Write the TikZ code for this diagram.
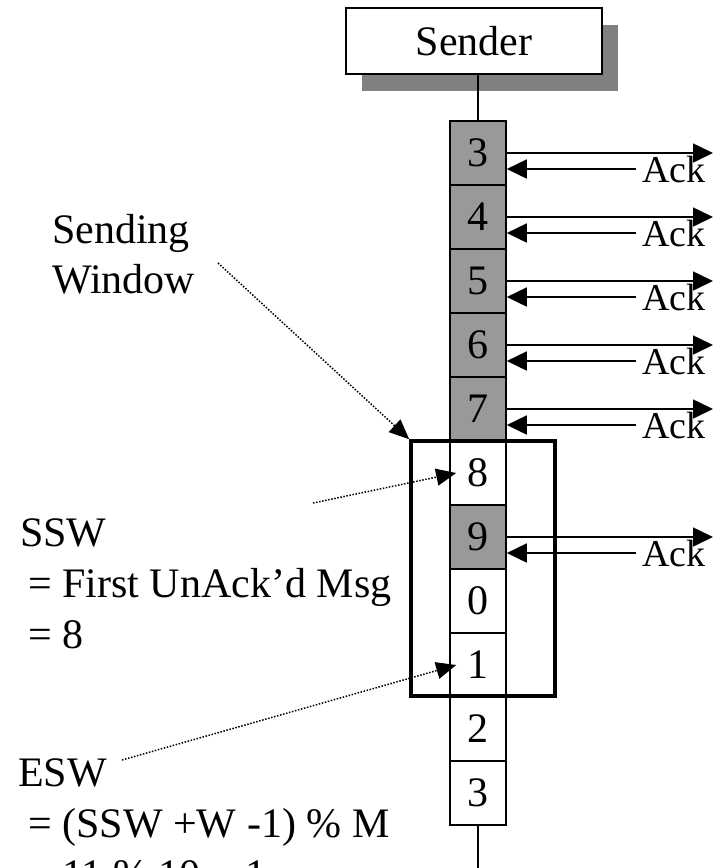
\documentclass[tikz,border=0pt]{standalone}
\usepackage{fontspec}
\setmainfont{Liberation Serif}
\usetikzlibrary{arrows.meta,shadows}
\definecolor{msgfill}{HTML}{999999}
\definecolor{shadowgray}{HTML}{808080}

\begin{document}
\begin{tikzpicture}[x=1pt, y=-1pt,
    note/.style={font=\fontsize{42}{50}\selectfont, inner sep=0pt, anchor=base west},
    cell/.style={draw, line width=1.6pt, minimum width=56pt, minimum height=64pt, inner sep=0pt, font=\fontsize{42}{50}\selectfont},
    msg/.style={line width=1.6pt, -{Triangle[length=20pt,width=19pt]}},
    hint/.style={line width=1.5pt, dash pattern=on 1.5pt off 1.6pt, -{Triangle[length=20pt,width=17pt]}},
    ack/.style={font=\fontsize{38}{44}\selectfont, inner ysep=0pt, inner xsep=6pt, anchor=base west}]
  \useasboundingbox (0,0) rectangle (724,868);
  \clip (0,0) rectangle (724,868);

  \node[draw, line width=1.6pt, fill=white, minimum width=256pt, minimum height=66pt,
        font=\fontsize{42}{50}\selectfont,
        drop shadow={shadow xshift=16pt, shadow yshift=-17pt, fill=shadowgray, opacity=1}] (sender) at (474,41) {Sender};

  \foreach \i/\n/\f in {0/3/msgfill, 1/4/msgfill, 2/5/msgfill, 3/6/msgfill, 4/7/msgfill, 5/8/white,
                        6/9/msgfill, 7/0/white, 8/1/white, 9/2/white, 10/3/white}
    \node[cell, fill=\f] (c\i) at (478, {153+64*\i}) {\n};

  \draw[line width=1.6pt] (sender.south -| c0.north) -- (c0.north);
  \coordinate (timeend) at (478,880);
  \draw[line width=1.6pt] (c10.south) -- (timeend);

  % sent messages and their acks
  \foreach \i in {0,1,2,3,4,6} {
    \coordinate (out\i) at (713, {153+64*\i});
    \draw[msg] (c\i.east) -- (out\i);
    \node[ack] (ack\i) at (636, {182+64*\i}) {Ack};
    \draw[msg] (ack\i.west) -- (ack\i.west -| c\i.east);
  }

  \node[draw, line width=3.5pt, minimum width=144pt, minimum height=255pt, inner sep=0pt] (win) at (483,568.5) {};

  \node[note] (sw1) at (52,243) {Sending};
  \node[note] (sw2) at (52,293) {Window};
  \node[note] (ssw1) at (20,546) {SSW};
  \node[note] (ssw2) at (28,597) {= First UnAck’d Msg};
  \node[note] (ssw3) at (28,648) {= 8};
  \node[note] (esw1) at (18,786) {ESW};
  \node[note] (esw2) at (28,837) {= (SSW +W -1) \% M};
  \node[note] (esw3) at (28,888) {= 11 \% 10 = 1};

  \coordinate (swtail) at (218,263);
  \coordinate (sswtail) at (313,503);
  \coordinate (eswtail) at (122,760);
  \draw[hint] (swtail) -- (win.north west);
  \draw[hint] (sswtail) -- ([xshift=7pt]c5.west);
  \draw[hint] (eswtail) -- ([xshift=7pt]c8.west);
\end{tikzpicture}
\end{document}
